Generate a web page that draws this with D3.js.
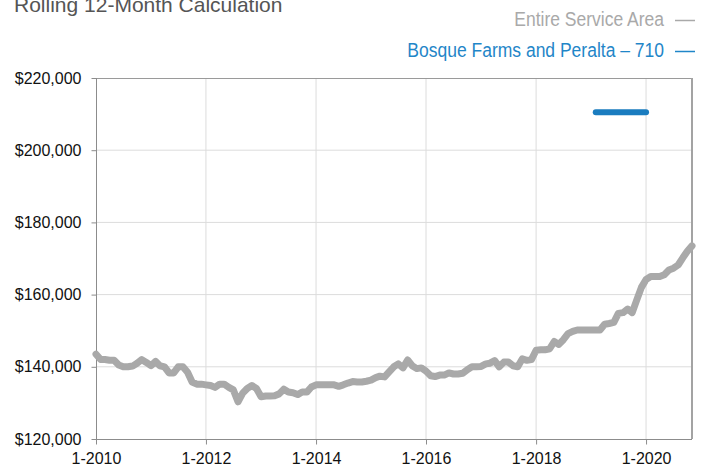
<!DOCTYPE html>
<html>
<head>
<meta charset="utf-8">
<script src="https://cdn.jsdelivr.net/npm/d3@7"></script>
<style>
    html, body { margin: 0; padding: 0; background: #fff; }
    svg { display: block; }
</style>
</head>
<body>
<svg id="chart" width="706" height="468"></svg>
<script>
// monthly rolling 12-month median price, Jan 2010 .. Nov 2020
var firstMonth = "2010-01";
var lastMonth = "2020-11";

var serviceAreaValues = [
    143500, 142000, 142000, 141800, 141800, 140500, 140000, 140000, 140200, 141000, 142000, 141200,
    140300, 141500, 140300, 140000, 138300, 138300, 140000, 140000, 138500, 135800, 135200, 135200,
    135000, 134800, 134300, 135200, 135200, 134300, 133600, 130300, 132700, 134000, 134800, 134000,
    131700, 131900, 131900, 132000, 132500, 133800, 133000, 132800, 132300, 133000, 133000, 134400,
    135000, 135000, 135000, 135000, 135000, 134600, 135000, 135500, 135900, 135800, 135800, 136000,
    136300, 137000, 137400, 137200, 138600, 140000, 140800, 139700, 141900, 140300, 139500, 139700,
    138800, 137500, 137300, 137700, 137700, 138300, 138000, 138000, 138200, 139200, 140000, 140000,
    140100, 140800, 141000, 141700, 140000, 141300, 141300, 140300, 140000, 142200, 141800, 142000,
    144600, 144700, 144700, 145000, 147000, 146200, 147500, 149200, 149800, 150200, 150200, 150200,
    150200, 150200, 150200, 151800, 152000, 152300, 154800, 155000, 156000, 155000, 158600, 162000,
    164200, 165000, 165000, 165000, 165500, 166800, 167300, 168200, 170200, 172000, 173500
];

// the area series only has the last 12 months (Feb 2019 .. Jan 2020)
var areaFirstMonth = "2019-02";
var areaValues = [
    210500, 210500, 210500, 210500, 210500, 210500, 210500, 210500, 210500, 210500, 210500, 210500
];

var yTicks = [120000, 140000, 160000, 180000, 200000, 220000];
var xTickYears = [2010, 2012, 2014, 2016, 2018, 2020];

var titleText = "Rolling 12-Month Calculation";
var legendLabels = ["Entire Service Area", "Bosque Farms and Peralta \u2013 710"];
var legendColors = ["#a9a9a9", "#1f86c8"];

(function () {
    var parseMonth = d3.timeParse("%Y-%m");
    var svg = d3.select("#chart");

    var left = 96, right = 692, top = 78, bottom = 439;

    var x = d3.scaleTime()
        .domain([parseMonth(firstMonth), parseMonth(lastMonth)])
        .range([left, right]);

    var y = d3.scaleLinear()
        .domain([120000, 220000])
        .range([bottom, top]);

    function toPoints(start, values) {
        var d0 = parseMonth(start);
        return values.map(function (v, i) {
            return { date: d3.timeMonth.offset(d0, i), value: v };
        });
    }

    var servicePts = toPoints(firstMonth, serviceAreaValues),
        areaPts = toPoints(areaFirstMonth, areaValues);

    // grid
    var grid = svg.append("g").attr("class", "grid");
    grid.selectAll("line.h")
        .data(yTicks.filter(function (t) { return t > 120000 && t < 220000; }))
        .enter().append("line")
          .attr("class", "h")
          .attr("x1", left).attr("x2", right)
          .attr("y1", function (d) { return y(d); })
          .attr("y2", function (d) { return y(d); })
          .attr("stroke", "#dcdcdc").attr("stroke-width", 1);

    grid.selectAll("line.v")
        .data(xTickYears.slice(1))
        .enter().append("line")
          .attr("class", "v")
          .attr("y1", top).attr("y2", bottom)
          .attr("x1", function (d) { return x(new Date(d, 0, 1)); })
          .attr("x2", function (d) { return x(new Date(d, 0, 1)); })
          .attr("stroke", "#dcdcdc").attr("stroke-width", 1);

    // frame top/right
    svg.append("line")
        .attr("x1", left).attr("x2", right).attr("y1", top + 0.5).attr("y2", top + 0.5)
        .attr("stroke", "#9a9a9a");
    svg.append("line")
        .attr("x1", right).attr("x2", right).attr("y1", top).attr("y2", bottom)
        .attr("stroke", "#a3a3a3").attr("stroke-width", 2);

    // axes
    var yAxis = d3.axisLeft(y)
        .tickValues(yTicks)
        .tickSize(5)
        .tickPadding(10)
        .tickFormat(function (d) { return "$" + d3.format(",")(d); });

    var xAxis = d3.axisBottom(x)
        .tickValues(xTickYears.map(function (yr) { return new Date(yr, 0, 1); }))
        .tickSize(5)
        .tickPadding(8)
        .tickFormat(function (d) { return "1-" + d.getFullYear(); });

    var gy = svg.append("g")
        .attr("transform", "translate(" + (left + 0.5) + ",0)")
        .call(yAxis);
    var gx = svg.append("g")
        .attr("transform", "translate(0," + (bottom + 0.5) + ")")
        .call(xAxis);

    [gy, gx].forEach(function (g) {
        g.select(".domain").attr("stroke", "#8c8c8c").attr("d", function () {
            return g === gy ? "M0," + top + "V" + bottom : "M" + left + ",0H" + right;
        });
        g.selectAll(".tick line").attr("stroke", "#8c8c8c");
        g.selectAll(".tick text")
            .attr("fill", "#111")
            .style("font-family", "'Liberation Sans', Arial, sans-serif")
            .style("font-size", "16px");
    });

    // series
    var line = d3.line()
        .x(function (d) { return x(d.date); })
        .y(function (d) { return y(d.value); });

    svg.append("path")
        .datum(servicePts)
        .attr("d", line)
        .attr("fill", "none")
        .attr("stroke", legendColors[0])
        .attr("stroke-width", 7)
        .attr("stroke-linejoin", "round")
        .attr("stroke-linecap", "round");

    svg.append("path")
        .datum(areaPts)
        .attr("d", line)
        .attr("fill", "none")
        .attr("stroke", "#1a7cbf")
        .attr("stroke-width", 6)
        .attr("stroke-linejoin", "round")
        .attr("stroke-linecap", "round");

    // title, cut at the top like the source
    svg.append("text")
        .attr("x", 14).attr("y", 12)
        .attr("fill", "#555")
        .style("font-family", "'Liberation Sans', Arial, sans-serif")
        .style("font-size", "21px")
        .text(titleText);

    // legend (source uses a condensed face, squeeze it sideways)
    var lg = svg.selectAll("g.legend")
        .data(legendLabels)
        .enter().append("g")
          .attr("class", "legend")
          .attr("transform", function (d, i) { return "translate(0," + (26 + i * 31) + ")"; });

    lg.append("text")
        .attr("transform", "translate(664,0) scale(0.875,1)")
        .attr("text-anchor", "end")
        .attr("fill", function (d, i) { return legendColors[i]; })
        .style("font-family", "'Liberation Sans', Arial, sans-serif")
        .style("font-size", "20px")
        .text(function (d) { return d; });

    lg.append("line")
        .attr("x1", 675).attr("x2", 695)
        .attr("y1", -5.5).attr("y2", -5.5)
        .attr("stroke", function (d, i) { return legendColors[i]; })
        .attr("stroke-width", 1.5);
})();
</script>
</body>
</html>
